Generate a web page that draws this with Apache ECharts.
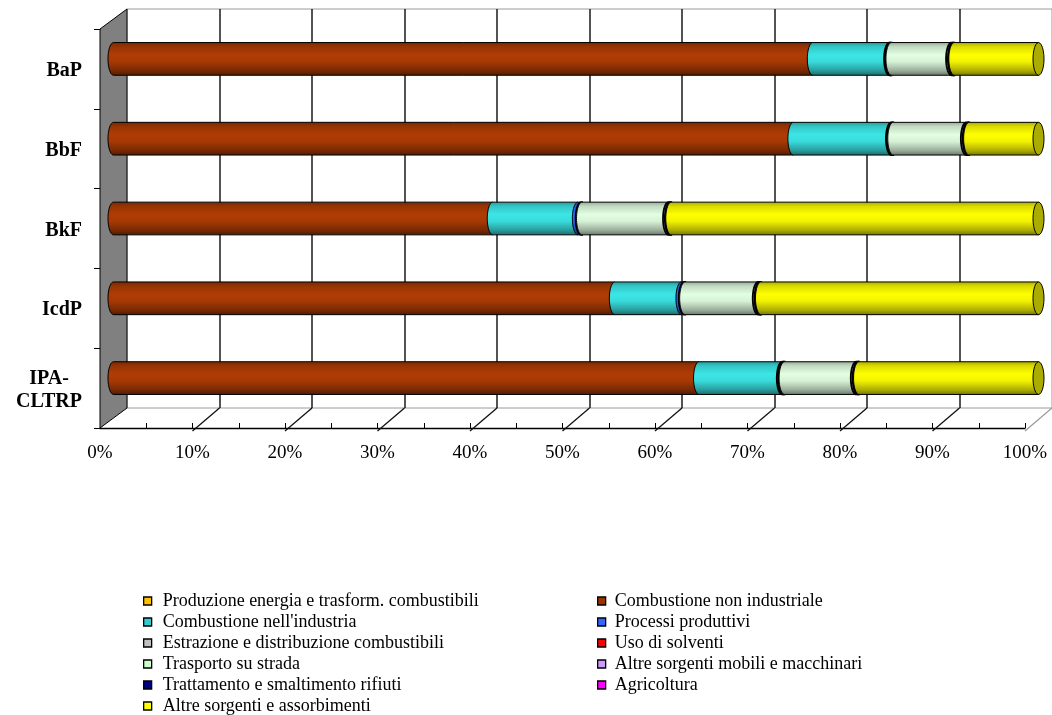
<!DOCTYPE html>
<html>
<head>
<meta charset="utf-8">
<script src="https://cdn.jsdelivr.net/npm/echarts@6/dist/echarts.min.js"></script>
<style>
  html, body { margin: 0; padding: 0; background: #fff; }
  #chart { width: 1052px; height: 715px; }
</style>
</head>
<body>
<div id="chart"></div>
<script>
// Categories, top to bottom
const categories = ['BaP', 'BbF', 'BkF', 'IcdP', 'IPA-CLTRP'];

// Emission source sectors (series order = stacking order, left to right)
const sourceNames = [
  'Produzione energia e trasform. combustibili',
  'Combustione non industriale',
  "Combustione nell'industria",
  'Processi produttivi',
  'Estrazione e distribuzione combustibili',
  'Uso di solventi',
  'Trasporto su strada',
  'Altre sorgenti mobili e macchinari',
  'Trattamento e smaltimento rifiuti',
  'Agricoltura',
  'Altre sorgenti e assorbimenti'
];

// Share of each sector (%) for BaP, BbF, BkF, IcdP, IPA-CLTRP
const produzioneEnergia        = [0,    0,    0,    0,    0];
const combustioneNonIndustr    = [75.6, 73.5, 41.0, 54.2, 63.3];
const combustioneIndustria     = [8.3,  10.6, 9.2,  7.2,  9.0];
const processiProduttivi       = [0.1,  0.1,  0.35, 0.3,  0.15];
const estrazioneDistribuzione  = [0.1,  0.1,  0.1,  0.1,  0.1];
const usoSolventi              = [0,    0,    0,    0,    0];
const trasportoStrada          = [6.5,  7.9,  9.35, 7.9,  7.75];
const altreSorgentiMobili      = [0.2,  0.2,  0.2,  0.2,  0.2];
const trattamentoRifiuti       = [0.1,  0.1,  0.1,  0.1,  0.1];
const agricoltura              = [0,    0,    0,    0,    0];
const altreSorgentiAssorb      = [9.1,  7.5,  39.7, 30.0, 19.4];

// Percentage axis tick labels
const percentTicks = ['0%', '10%', '20%', '30%', '40%', '50%', '60%', '70%', '80%', '90%', '100%'];

const shares = [
  produzioneEnergia, combustioneNonIndustr, combustioneIndustria, processiProduttivi,
  estrazioneDistribuzione, usoSolventi, trasportoStrada, altreSorgentiMobili,
  trattamentoRifiuti, agricoltura, altreSorgentiAssorb
];

// Styles
const FONT = "'Liberation Serif', 'Times New Roman', serif";
const legendColors = ['#FFC000', '#993300', '#33CCCC', '#3366FF', '#C0C0C0', '#FF0000',
                      '#CCFFCC', '#CC99FF', '#000080', '#FF00FF', '#FFFF00'];
const bodyColors   = ['#FFC000', '#B03C04', '#3CE6E6', '#3366FF', '#C0C0C0', '#FF0000',
                      '#E2FFE2', '#CC99FF', '#000080', '#FF00FF', '#FFFF00'];

// 3D box geometry: front plane, back plane shifted by depth, bars in the middle
const FRONT = { left: 100, top: 29, width: 925, height: 399 };
const DEPTH_X = 27, DEPTH_Y = -20;
const BAR_RATIO = 0.41;   // cylinder diameter relative to category band
const CAP_RX = 5.5;       // horizontal radius of the cylinder end ellipse
const ARC_STEPS = 24;
const THIN_SEGMENT = 2.5; // segments narrower than this (px) show as a heavy rim

function shade(hex, f) {
  const n = parseInt(hex.slice(1), 16);
  const r = Math.min(255, Math.round(((n >> 16) & 255) * f));
  const g = Math.min(255, Math.round(((n >> 8) & 255) * f));
  const b = Math.min(255, Math.round((n & 255) * f));
  return 'rgb(' + r + ',' + g + ',' + b + ')';
}

function cylinderGradient(hex) {
  return new echarts.graphic.LinearGradient(0, 0, 0, 1, [
    { offset: 0,    color: shade(hex, 0.66) },
    { offset: 0.14, color: shade(hex, 0.86) },
    { offset: 0.38, color: shade(hex, 1.0) },
    { offset: 0.58, color: shade(hex, 0.95) },
    { offset: 0.85, color: shade(hex, 0.68) },
    { offset: 1,    color: shade(hex, 0.45) }
  ]);
}

// Stack the shares: each item is [start, end, categoryIndex, isLastSegment]
const lastSeriesOf = categories.map((_, c) => {
  let k = -1;
  shares.forEach((arr, s) => { if (arr[c] > 0) k = s; });
  return k;
});
const running = categories.map(() => 0);
const stackedData = shares.map((arr, s) => arr.map((v, c) => {
  const a = running[c];
  running[c] += v;
  return [a, a + v, c, lastSeriesOf[c] === s ? 1 : 0];
}));

function ellipseArc(cx, cy, rx, ry, from, to) {
  const pts = [];
  for (let k = 0; k <= ARC_STEPS; k++) {
    const t = from + (to - from) * k / ARC_STEPS;
    pts.push([cx + rx * Math.cos(t), cy + ry * Math.sin(t)]);
  }
  return pts;
}

function renderCylinder(params, api, s) {
  const start = api.value(0), end = api.value(1), ci = api.value(2), last = api.value(3);
  if (!(end > start)) return null;
  const p0 = api.coord([start, ci]);
  const p1 = api.coord([end, ci]);
  const h = api.size([0, 1])[1] * BAR_RATIO;
  const yc = p0[1], ry = h / 2;
  const x0 = p0[0], x1 = p1[0];
  const thin = (x1 - x0) < THIN_SEGMENT;
  const body = [[x0, yc - ry], [x1, yc - ry], [x1, yc + ry]]
    .concat(ellipseArc(x0, yc, CAP_RX, ry, Math.PI / 2, Math.PI * 1.5));
  const children = [{
    type: 'polygon',
    z2: s * 2,
    shape: { points: body },
    style: { fill: cylinderGradient(bodyColors[s]), stroke: '#000', lineWidth: thin ? 1.8 : 1 }
  }];
  if (last) {
    children.push({
      type: 'polygon',
      z2: s * 2 + 1,
      shape: { points: ellipseArc(x1, yc, CAP_RX, ry, 0, Math.PI * 2) },
      style: { fill: shade(bodyColors[s], 0.67), stroke: '#000', lineWidth: 1 }
    });
  }
  return { type: 'group', children };
}

// Left wall and floor edges of the 3D box
function renderBox(params, api) {
  const cs = params.coordSys;
  const bottom = cs.y + cs.height;
  const children = [];
  percentTicks.forEach((t, i) => {
    if (i === 0) return;
    const x = api.coord([parseFloat(t), 0])[0];
    children.push({
      type: 'line',
      shape: { x1: x, y1: bottom + 3, x2: x + DEPTH_X, y2: bottom + DEPTH_Y },
      style: { stroke: i === percentTicks.length - 1 ? '#9a9a9a' : '#111', lineWidth: 1.3 }
    });
  });
  children.push({
    type: 'polygon',
    shape: { points: [[cs.x, cs.y], [cs.x + DEPTH_X, cs.y + DEPTH_Y],
                      [cs.x + DEPTH_X, bottom + DEPTH_Y], [cs.x, bottom]] },
    style: { fill: '#808080', stroke: '#000', lineWidth: 1 }
  });
  return { type: 'group', children };
}

function categoryLabel(v) {
  if (v.indexOf('-') < 0) return v;
  const parts = v.split('-');
  return parts.map((p, i) => '{c|' + p + (i < parts.length - 1 ? '-' : '') + '}').join('\n');
}

const barSeries = sourceNames.map((name, s) => ({
  type: 'custom',
  name,
  xAxisIndex: 2,
  yAxisIndex: 2,
  z: 3,
  silent: true,
  itemStyle: { color: legendColors[s] },
  encode: { x: [0, 1], y: 2 },
  data: stackedData[s],
  renderItem: (params, api) => renderCylinder(params, api, s)
}));

const legendText = { fontFamily: FONT, fontSize: 18, color: '#000', lineHeight: 17 };
const legendBase = {
  orient: 'vertical',
  icon: 'rect',
  itemWidth: 8,
  itemHeight: 8,
  itemGap: 3,
  padding: 0,
  height: 140,
  selectedMode: false,
  itemStyle: { borderColor: '#000', borderWidth: 1.3 },
  textStyle: legendText
};

const chart = echarts.init(document.getElementById('chart'), null, { renderer: 'canvas' });
chart.setOption({
  animation: false,
  backgroundColor: '#fff',
  legend: [
    Object.assign({}, legendBase, {
      left: 143, top: 592,
      data: sourceNames.filter((_, i) => i % 2 === 0),
      textStyle: Object.assign({}, legendText, { padding: [0, 0, 0, 6] })
    }),
    Object.assign({}, legendBase, {
      left: 597, top: 592,
      data: sourceNames.filter((_, i) => i % 2 === 1),
      textStyle: Object.assign({}, legendText, { padding: [0, 0, 0, 4] })
    })
  ],
  grid: [
    { left: FRONT.left, top: FRONT.top, width: FRONT.width, height: FRONT.height, containLabel: false },
    { left: FRONT.left + DEPTH_X, top: FRONT.top + DEPTH_Y, width: FRONT.width, height: FRONT.height,
      show: true, backgroundColor: '#fff', borderColor: '#9a9a9a', borderWidth: 1 },
    { left: FRONT.left + DEPTH_X / 2, top: FRONT.top + DEPTH_Y / 2, width: FRONT.width, height: FRONT.height }
  ],
  xAxis: [
    {
      type: 'value', gridIndex: 0, min: 0, max: 100, interval: 10,
      axisLine: { show: true, lineStyle: { color: '#000', width: 1.3 } },
      axisTick: { show: true, inside: true, length: 5, lineStyle: { color: '#000' } },
      minorTick: { show: true, splitNumber: 2, length: 5, lineStyle: { color: '#000' } },
      splitLine: { show: false },
      axisLabel: {
        formatter: (v) => percentTicks[Math.round(v / 10)],
        fontFamily: FONT, fontSize: 19, color: '#000', margin: 16
      }
    },
    {
      type: 'value', gridIndex: 1, min: 0, max: 100, interval: 10,
      axisLine: { show: false }, axisTick: { show: false }, axisLabel: { show: false },
      splitLine: { show: true, showMinLine: false, showMaxLine: false,
                   lineStyle: { color: '#1a1a1a', width: 1.5 } }
    },
    {
      type: 'value', gridIndex: 2, min: 0, max: 100, show: false
    }
  ],
  yAxis: [
    {
      type: 'category', gridIndex: 0, data: categories, inverse: true,
      axisLine: { show: true, lineStyle: { color: '#000', width: 1 } },
      axisTick: { show: true, length: 6, lineStyle: { color: '#000' } },
      splitLine: { show: false },
      axisLabel: {
        formatter: categoryLabel,
        fontFamily: FONT, fontSize: 20, fontWeight: 'bold', color: '#000', margin: 18,
        padding: [4, 0, 0, 0],
        rich: { c: { align: 'center', fontFamily: FONT, fontSize: 20, fontWeight: 'bold',
                     color: '#000', lineHeight: 23 } }
      }
    },
    {
      type: 'category', gridIndex: 1, data: categories, inverse: true, show: false
    },
    {
      type: 'category', gridIndex: 2, data: categories, inverse: true, show: false
    }
  ],
  series: [
    {
      type: 'custom', xAxisIndex: 0, yAxisIndex: 0, z: 1, silent: true,
      data: [[0, 0]],
      renderItem: renderBox
    }
  ].concat(barSeries)
});
</script>
</body>
</html>
